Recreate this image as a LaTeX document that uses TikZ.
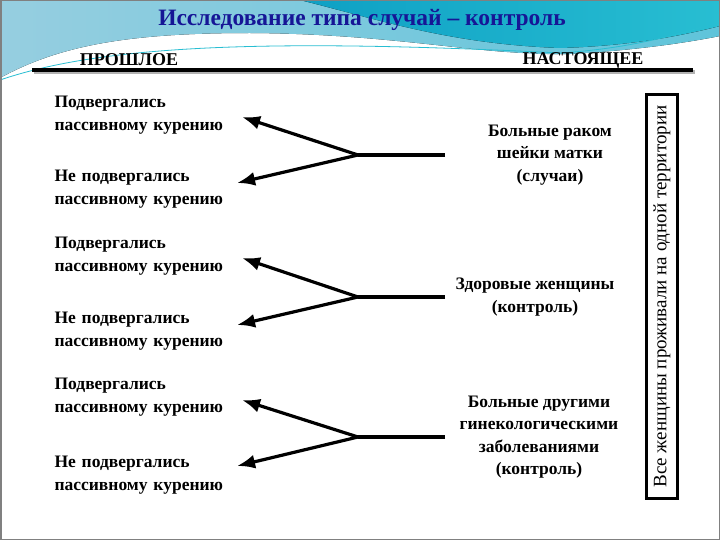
\documentclass[tikz,border=0pt]{standalone}
\usepackage{fontspec}
\setmainfont{Liberation Serif}
\usetikzlibrary{arrows.meta}
\definecolor{titleblue}{RGB}{22,22,150}
\definecolor{seablue}{RGB}{14,160,196}
\definecolor{seablue2}{RGB}{40,190,210}
\definecolor{paleblue}{RGB}{150,206,224}
\definecolor{midblue}{RGB}{95,196,218}
\tikzset{
  past/.style={anchor=west,align=left,text width=172pt,font=\fontsize{17.5}{23}\selectfont\bfseries},
  present/.style={align=center,font=\fontsize{17.5}{22.5}\selectfont\bfseries},
  head/.style={font=\fontsize{18}{20}\selectfont\bfseries},
  fork/.style={line width=3.2pt},
  tip/.style={line width=3.2pt,-{Latex[length=18pt,width=14pt]}},
}
\begin{document}
\begin{tikzpicture}[x=1pt,y=-1pt,line join=miter]
  \useasboundingbox (0,0) rectangle (720,540);
  % background swoosh
  \fill[white] (0,0) rectangle (720,540);
  \fill[left color=paleblue,right color=midblue] (0,0) -- (0,78) .. controls (60,45) and (130,33) .. (250,33)
    .. controls (400,34) and (480,56) .. (570,54) .. controls (640,50) and (690,42) .. (720,36) -- (720,0) -- cycle;
  \fill[left color=seablue,right color=seablue2] (300,0) .. controls (380,20) and (450,44) .. (560,48)
    .. controls (630,46) and (680,36) .. (720,26) -- (720,0) -- cycle;
  \draw[white,line width=1.5pt] (0,84) .. controls (100,48) and (260,40) .. (560,56);
  \draw[seablue2,line width=0.8pt] (0,80) .. controls (100,46) and (260,38) .. (560,53) .. controls (640,48) and (690,30) .. (720,22);
  \draw[gray,line width=1.5pt] (0.75,0.75) rectangle (719.25,539.25);

  % headings
  \node[font=\fontsize{23.5}{26}\selectfont\bfseries,text=titleblue] (title) at (362,20) {Исследование типа случай – контроль};
  \node[head] (past) at (129,60) {ПРОШЛОЕ};
  \node[head] (now) at (583,60) {НАСТОЯЩЕЕ};
  \coordinate (ls) at (32,70);
  \coordinate (le) at (693,70);
  \draw[line width=4pt,black!30] ([shift={(2,2)}]ls) -- ([shift={(2,2)}]le);
  \draw[line width=4pt] (ls) -- (le);

  % past
  \node[past] (p1) at (51,115) {Подвергались\\пассивному курению};
  \node[past] (n1) at (51,189) {Не подвергались\\пассивному курению};
  \node[past] (p2) at (51,256) {Подвергались\\пассивному курению};
  \node[past] (n2) at (51,331) {Не подвергались\\пассивному курению};
  \node[past] (p3) at (51,397) {Подвергались\\пассивному курению};
  \node[past] (n3) at (51,475) {Не подвергались\\пассивному курению};

  % present
  \node[present] (c1) at (550,155) {Больные раком\\шейки матки\\(случаи)};
  \node[present] (c2) at (535,297) {Здоровые женщины\\(контроль)};
  \node[present] (c3) at (539,437) {Больные другими\\гинекологическими\\заболеваниями\\(контроль)};

  \node[draw,line width=3pt,rotate=90,minimum width=404pt,minimum height=31pt,
    font=\fontsize{19}{22}\selectfont] (all) at (662,296.5) {Все женщины проживали на одной территории};

  % forks
  \coordinate (v1) at (358,155);
  \coordinate (v2) at (358,297);
  \coordinate (v3) at (358,437);
  \coordinate (e1) at (445,155);
  \coordinate (e2) at (445,297);
  \coordinate (e3) at (445,437);
  \draw[fork] (e1) -- (v1);
  \draw[fork] (e2) -- (v2);
  \draw[fork] (e3) -- (v3);
  \draw[tip] (v1) -- ([shift={(12,2)}]p1.east);
  \draw[tip] (v1) -- ([shift={(7,-6)}]n1.east);
  \draw[tip] (v2) -- ([shift={(12,2)}]p2.east);
  \draw[tip] (v2) -- ([shift={(7,-6)}]n2.east);
  \draw[tip] (v3) -- ([shift={(12,3)}]p3.east);
  \draw[tip] (v3) -- ([shift={(7,-9)}]n3.east);
\end{tikzpicture}
\end{document}
